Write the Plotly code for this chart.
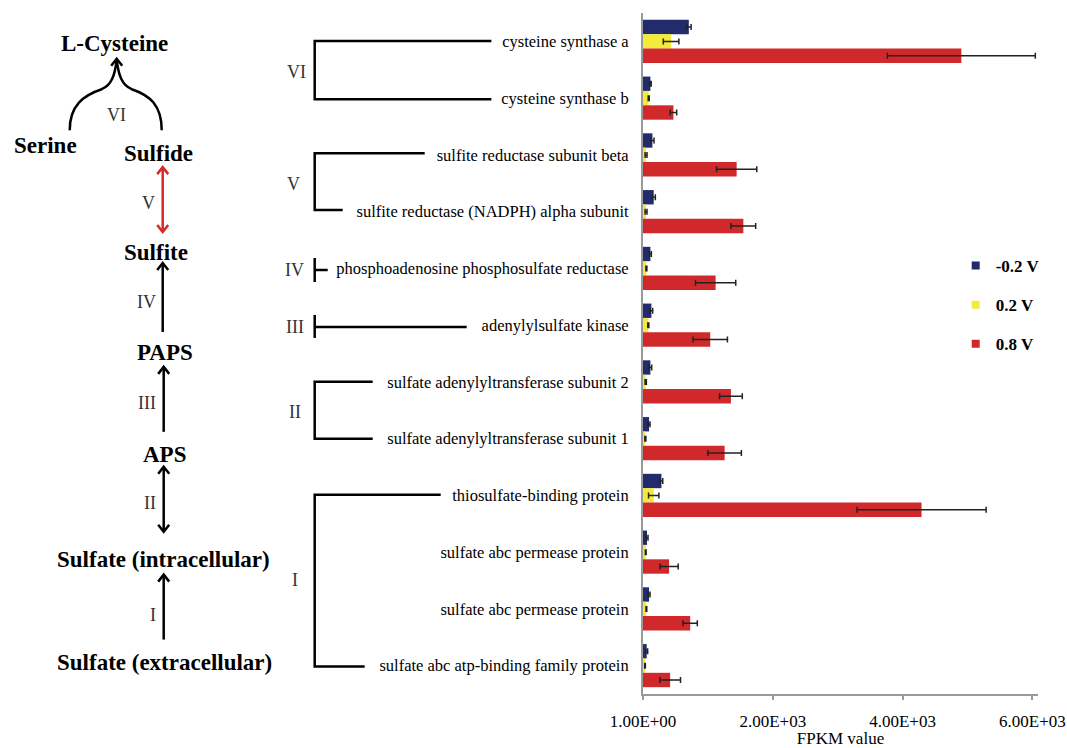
import re
import plotly.graph_objects as go

# ---------------- data ----------------
genes = [
    "cysteine synthase a",
    "cysteine synthase b",
    "sulfite reductase subunit beta",
    "sulfite reductase (NADPH) alpha subunit",
    "phosphoadenosine phosphosulfate reductase",
    "adenylylsulfate kinase",
    "sulfate adenylyltransferase subunit 2",
    "sulfate adenylyltransferase subunit 1",
    "thiosulfate-binding protein",
    "sulfate abc permease protein",
    "sulfate abc permease protein",
    "sulfate abc atp-binding family protein",
]
series_names = ["-0.2 V", "0.2 V", "0.8 V"]
fpkm_neg02 = [706, 114, 145, 165, 114, 129, 114, 93, 284, 62, 93, 57]
err_neg02 = [35, 12, 25, 25, 15, 20, 20, 15, 20, 15, 15, 15]
fpkm_pos02 = [433, 88, 47, 47, 52, 82, 42, 36, 165, 42, 52, 31]
err_pos02 = [120, 8, 15, 15, 8, 8, 10, 8, 80, 6, 6, 5]
fpkm_pos08 = [4905, 469, 1443, 1546, 1119, 1036, 1355, 1258, 4292, 402, 727, 418]
err_pos08 = [1140, 50, 310, 190, 310, 265, 175, 258, 995, 140, 110, 160]
x_tickvals = [0, 2000, 4000, 6000]
x_ticktext = ["1.00E+00", "2.00E+03", "4.00E+03", "6.00E+03"]

colors = ["#222C6C", "#F4EA3A", "#D1282C"]

# ---------------- figure geometry ----------------
W, H = 1067, 748
PL, PR, PT, PB = 643.3, 1038.3, 12.7, 694.5
SERIF = "Liberation Serif, Times New Roman, serif"


def X(px):
    return (px - PL) / (PR - PL)


def Y(py):
    return (PB - py) / (PB - PT)


def conv(path_px):
    out = []
    for tok in re.findall(r"[MLCZ]|-?\d+\.?\d*,-?\d+\.?\d*", path_px):
        if tok in "MLCZ":
            out.append(tok)
        else:
            a, b = map(float, tok.split(","))
            out.append(f"{X(a):.5f},{Y(b):.5f}")
    return " ".join(out)


ypos = list(range(len(genes)))

fig = go.Figure()
for name, vals, errs, col in zip(series_names,
                                 [fpkm_neg02, fpkm_pos02, fpkm_pos08],
                                 [err_neg02, err_pos02, err_pos08], colors):
    fig.add_trace(go.Bar(
        x=vals, y=ypos, orientation="h", name=name, marker_color=col,
        marker_line_width=0, showlegend=False, legendgroup=name,
        error_x=dict(type="data", array=errs, visible=True, color="#222222",
                     thickness=1.5, width=3),
    ))
# legend entries with small square symbols
for name, col in zip(series_names, colors):
    fig.add_trace(go.Scatter(
        x=[None], y=[None], mode="markers", name=name, legendgroup=name,
        marker=dict(symbol="square", size=8, color=col),
    ))

shapes = []


def add_path(p, color="black", width=2.5):
    shapes.append(dict(type="path", xref="paper", yref="paper", path=conv(p),
                       line=dict(color=color, width=width),
                       fillcolor="rgba(0,0,0,0)", layer="above"))


def chevron_up(x, y, color="black"):
    add_path(f"M{x-5.5},{y+7} L{x},{y} L{x+5.5},{y+7}", color)


def chevron_down(x, y, color="black"):
    add_path(f"M{x-5.5},{y-7} L{x},{y} L{x+5.5},{y-7}", color)


# ---- pathway diagram ----
add_path("M117,60 C115,75 112,85 102,89 C84,95 70,105 70,130")
add_path("M117,60 C119,75 122,85 132,89 C150,95 162,105 162,130")
chevron_up(117, 58.5)
red = "#D42A2A"
add_path("M163,168 L163,231", red)
chevron_up(163, 167, red)
chevron_down(163, 232, red)
add_path("M163,332 L163,264")
chevron_up(163, 263)
add_path("M164,432 L164,368")
chevron_up(164, 367)
add_path("M164,468 L164,531")
chevron_up(164, 467)
chevron_down(164, 532)
add_path("M164,640 L164,576")
chevron_up(164, 575)

# ---- brackets ----
add_path("M491.7,40.7 L315,40.7 L315,99 L491.7,99")
add_path("M425,153 L315,153 L315,210 L343,210")
add_path("M315,258 L315,282")
add_path("M315,270 L328,270")
add_path("M315,315 L315,338")
add_path("M315,327 L467,327")
add_path("M373,382 L315,382 L315,439 L373,439")
add_path("M441,495 L315,495 L315,667 L365,667")

annotations = []


def add_text(txt, px, py, size, bold=False, color="black", xanchor="center"):
    annotations.append(dict(
        text=txt, x=X(px), y=Y(py), xref="paper", yref="paper",
        showarrow=False, xanchor=xanchor, yanchor="middle",
        font=dict(family=SERIF, size=size, color=color,
                  weight=700 if bold else 400)))


compounds = [("L-Cysteine", 115, 43), ("Serine", 46, 145), ("Sulfide", 159, 153),
             ("Sulfite", 156, 252), ("PAPS", 165, 353), ("APS", 165, 455),
             ("Sulfate (intracellular)", 164, 560),
             ("Sulfate (extracellular)", 165, 663)]
for t, px, py in compounds:
    add_text(t, px, py, 23, bold=True)

steps_left = [("VI", 117, 115, "center"), ("V", 157, 203, "right"),
              ("IV", 158, 302, "right"), ("III", 158, 403, "right"),
              ("II", 158, 503, "right"), ("I", 158, 615, "right")]
for t, px, py, xa in steps_left:
    add_text(t, px, py, 18, color="#333333", xanchor=xa)

steps_mid = [("VI", 297, 72), ("V", 294, 184), ("IV", 295, 270),
             ("III", 295, 327), ("II", 295, 412), ("I", 295, 580)]
for t, px, py in steps_mid:
    add_text(t, px, py, 18, color="#333333")

fig.update_layout(
    width=W, height=H,
    margin=dict(l=PL, r=W - PR, t=PT, b=H - PB, autoexpand=False),
    paper_bgcolor="white", plot_bgcolor="white",
    barmode="group", bargap=0.24, bargroupgap=0,
    font=dict(family=SERIF, size=16, color="black"),
    shapes=shapes, annotations=annotations,
    legend=dict(x=X(956), y=Y(248), xanchor="left", yanchor="top",
                font=dict(family=SERIF, size=17, color="black", weight=700),
                tracegroupgap=14, bgcolor="rgba(0,0,0,0)"),
    xaxis=dict(range=[0, 6000 * (PR - PL) / (1032.7 - PL)],
               tickvals=x_tickvals, ticktext=x_ticktext,
               showline=True, linecolor="#999999", linewidth=2,
               ticks="outside", ticklen=4, tickcolor="#999999", tickwidth=2,
               showgrid=False, zeroline=False, automargin=False,
               ticklabelstandoff=7,
               tickfont=dict(family=SERIF, size=17, color="black"),
               title=dict(text="FPKM value", standoff=3,
                          font=dict(family=SERIF, size=17, color="black"))),
    yaxis=dict(range=[len(genes) - 0.5, -0.5], tickvals=ypos, ticktext=genes,
               showline=True, linecolor="#999999", linewidth=2,
               ticks="", showgrid=False, zeroline=False, automargin=False,
               ticklabelstandoff=9,
               tickfont=dict(family=SERIF, size=16.5, color="black")),
)

fig.write_html("out.html",
               config={"displayModeBar": False},
               post_script="document.body.style.margin='0px';"
                           "document.body.style.overflow='hidden';")
